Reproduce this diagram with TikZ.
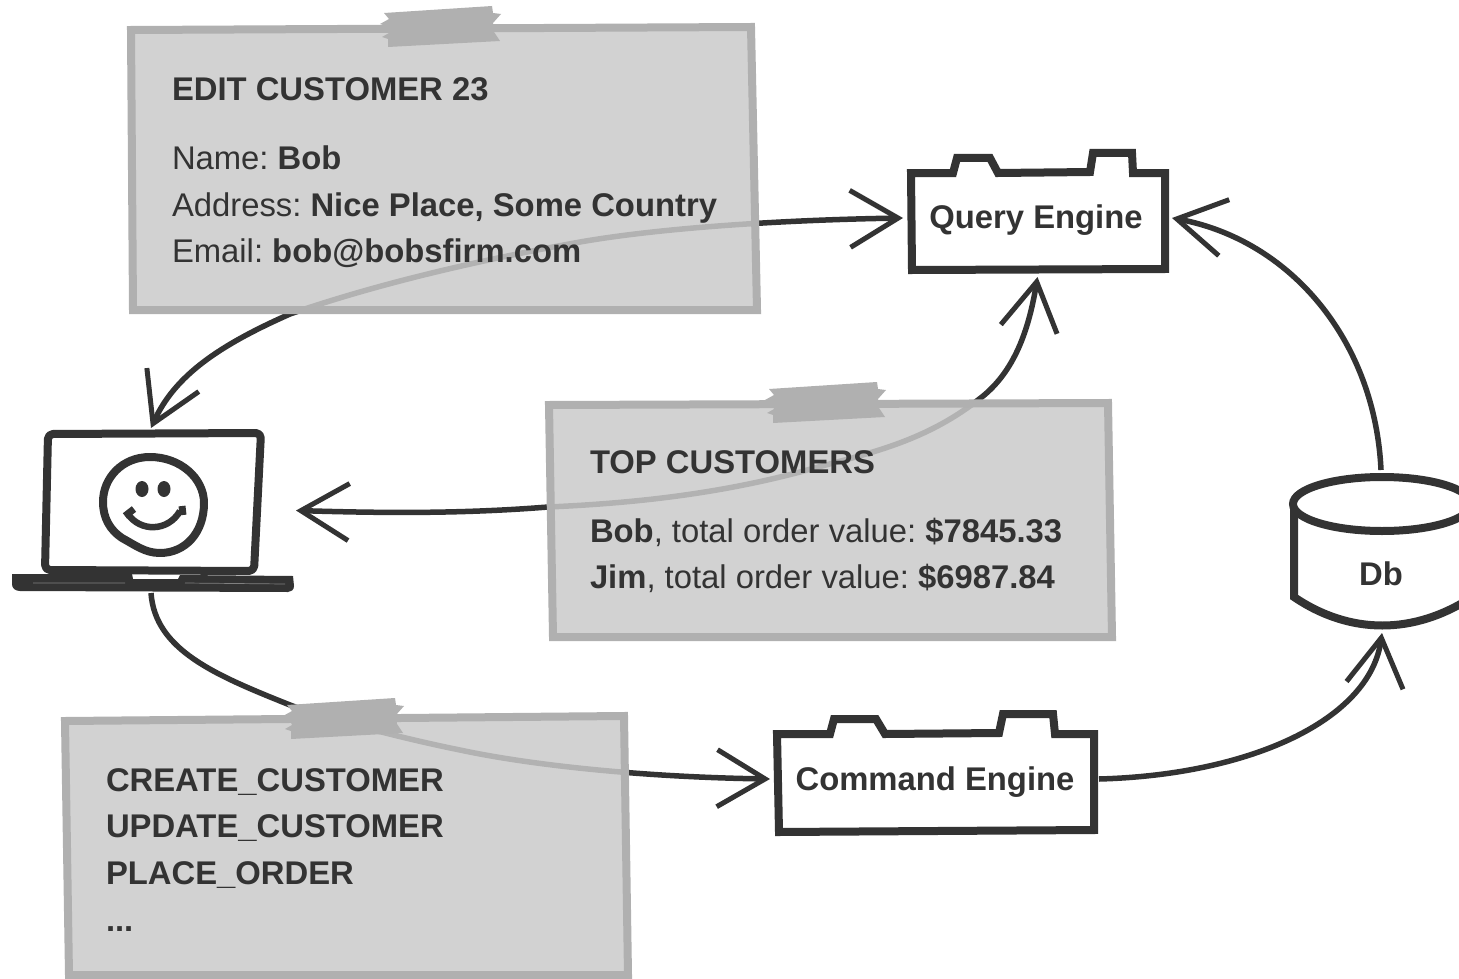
\documentclass[tikz,border=0pt]{standalone}
\usepackage{fontspec}
\setmainfont{Liberation Sans}
\usetikzlibrary{arrows.meta}
\definecolor{ink}{HTML}{333333}
\definecolor{noteedge}{HTML}{B0B0B0}
\definecolor{notefill}{HTML}{CACACA}
\tikzset{
  x=1pt,y=-1pt,
  barb/.tip={Straight Barb[length=48pt,width=57pt,line width=5pt]},
  every node/.style={text=ink,font=\fontsize{32.8}{40}\selectfont\frenchspacing,inner sep=0pt,outer sep=0pt},
  linetext/.style={anchor=base west},
  boxlabel/.style={font=\fontsize{32.8}{40}\selectfont\bfseries,anchor=base},
  connector/.style={draw=ink,line width=5.5pt},
  engine/.style={draw=ink,line width=8pt,fill=white,miter limit=10},
  note/.style={draw=noteedge,line width=8pt,fill=notefill,fill opacity=.843,draw opacity=1},
  tapestyle/.style={fill=noteedge,draw=none},
  tapepic/.pic={
    \path[tapestyle] (384,13)--(492,6)--(493,13)--(501,14)--(493,23)--(494,32)--(500,41)--(388,47)--(388,39)--(382,37)--(389,33)--(386,26)--(380,24)--(389,19)--cycle;
  },
  laptopline/.style={draw=ink,line width=8pt,line join=round}
}
\begin{document}
\begin{tikzpicture}
\useasboundingbox (0,0) rectangle (1459,979);
\clip (0,0) rectangle (1459,979);
\fill[white] (0,0) rectangle (1459,979);

% engines, drawn first so that the arrowheads stay visible
\draw[engine] (911,173)--(953,173)--(957,158)--(990,158)--(998,173)--(1090,172)--(1093,153)--(1132,153)--(1133,173)--(1165,173)--(1165,269)--(912,270)--cycle;
\draw[engine] (777,734)--(830,734)--(834,719)--(876,719)--(885,734)--(999,733)--(1003,714)--(1053,714)--(1055,734)--(1094,734)--(1094,830)--(779,832)--cycle;

% anchors of the connectors
\node[minimum width=290pt,minimum height=165pt] (laptop) at (151,510.5) {};
\node[minimum width=269pt,minimum height=118pt] (query) at (1037.5,218) {};
\node[minimum width=329pt,minimum height=100pt] (command) at (934.5,779) {};
\coordinate (dbtop) at (1381,470);
\coordinate (dbbottom) at (1382,633);

% connectors
\draw[connector,barb-barb] (query.west) .. controls (780,220) and (660,228) .. (580,242) .. controls (480,260) and (380,283) .. (290,314) .. controls (220,345) and (175,375) .. (laptop.north);
\draw[connector,barb-barb] (query.south) .. controls (1028,335) and (1012,375) .. (978,400) .. controls (920,445) and (860,455) .. (800,472) .. controls (720,493) and (640,503) .. (548,507) .. controls (460,514) and (380,513) .. (laptop.east);
\draw[connector,-barb] (laptop.south) .. controls (155,650) and (215,675) .. (290,705) .. controls (330,720) and (410,740) .. (460,750) .. controls (530,765) and (640,777) .. (command.west);
\draw[connector,-barb] (command.east) .. controls (1250,775) and (1370,720) .. (dbbottom);
\draw[connector,-barb] (dbtop) .. controls (1375,340) and (1290,240) .. (query.east);

\node[boxlabel] (querylabel) at (1036,228) {Query Engine};
\node[boxlabel] (commandlabel) at (935,790) {Command Engine};

% database
\draw[ink,line width=8pt,fill=white] (1294,500) -- (1294,597) .. controls (1350,635) and (1414,635) .. (1472,597) -- (1472,500);
\draw[ink,line width=8pt,fill=white] (1382,504) ellipse [x radius=89,y radius=27];
\node[boxlabel] (db) at (1381,585) {Db};

% laptop
\draw[laptopline,rounded corners=5pt,fill=white] (48,434)--(261,433)--(254,571)--(45,570)--cycle;
\fill[ink] (12,574)--(132,574)--(133,579)--(178,579)--(180,575)--(293,576)--(294,586)
  .. controls (294,590) and (291,592) .. (288,592)--(20,591) .. controls (15,591) and (12,588) .. (12,584)--cycle;
\draw[gray,line width=.7pt] (33,583)--(125,583) (185,583)--(285,584);
\draw[laptopline] (150,457) .. controls (180,457) and (204,478) .. (204,503) .. controls (204,533) and (185,553) .. (160,553) .. controls (145,553) and (135,545) .. (122,538) .. controls (110,530) and (103,518) .. (103,502) .. controls (103,478) and (122,457) .. (150,457) -- cycle;
\fill[ink] (142,489) ellipse [x radius=6.5,y radius=8];
\fill[ink] (164,489) ellipse [x radius=6.5,y radius=8];
\draw[ink,line width=6.5pt] (128,514) .. controls (140,532) and (168,532) .. (180,511);
\draw[ink,line width=7pt] (125,516)--(134,509);
\draw[ink,line width=7pt] (183,515)--(182,506);

% notes
\draw[note] (131,30)--(751,27)--(757,310)--(133,310)--cycle;
\draw[note] (549,405)--(1108,403)--(1112,637)--(553,637)--cycle;
\draw[note] (65,721)--(624,716)--(628,975)--(69,975)--cycle;
\pic at (0,0) {tapepic};
\pic at (385,376) {tapepic};
\pic at (-97,692) {tapepic};

% note texts
\node[linetext] (t1) at (172,101) {\bfseries EDIT CUSTOMER 23};
\node[linetext] (t2) at (172,169) {Name: \textbf{Bob}};
\node[linetext] (t3) at (172,216) {Address: \textbf{Nice Place, Some Country}};
\node[linetext] (t4) at (172,262) {Email: \textbf{bob@bobsfirm.com}};
\node[linetext] (t5) at (590,473) {\bfseries TOP CUSTOMERS};
\node[linetext] (t6) at (590,542) {\textbf{Bob}, total order value: \textbf{\$7845.33}};
\node[linetext] (t7) at (590,588) {\textbf{Jim}, total order value: \textbf{\$6987.84}};
\node[linetext] (t8) at (106,791) {\bfseries CREATE\_CUSTOMER};
\node[linetext] (t9) at (106,837) {\bfseries UPDATE\_CUSTOMER};
\node[linetext] (t10) at (106,884) {\bfseries PLACE\_ORDER};
\node[linetext] (t11) at (106,931) {\bfseries ...};
\end{tikzpicture}
\end{document}
